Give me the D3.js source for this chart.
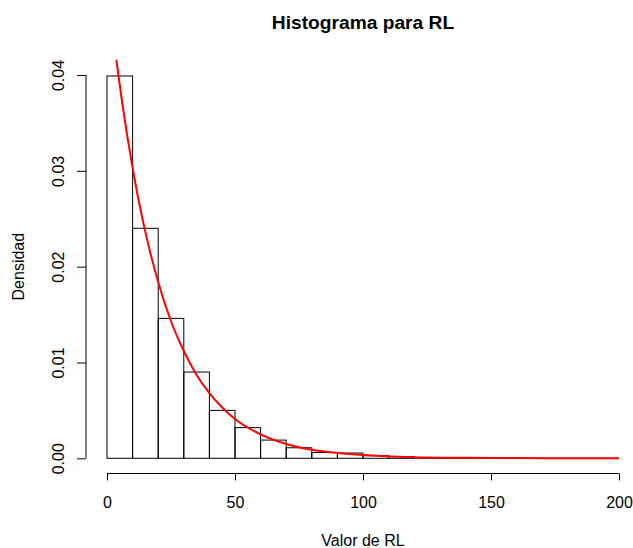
<!DOCTYPE html>
<html>
<head>
<meta charset="utf-8">
<script src="https://cdn.jsdelivr.net/npm/d3@7"></script>
<style>
  html, body { margin: 0; padding: 0; background: #fff; }
  svg { display: block; }
  text { font-family: "Liberation Sans", Arial, sans-serif; fill: #000; }
</style>
</head>
<body>
<script>
// Histogram bins (break edges) and densities
const binStarts = [0, 10, 20, 30, 40, 50, 60, 70, 80, 90, 100, 110, 120, 130, 140];
const binWidth = 10;
const densities = [0.0399, 0.0240, 0.0146, 0.0090, 0.0050, 0.0032, 0.0019, 0.0011,
                   0.0006, 0.00055, 0.00027, 0.00017, 0.00008, 0.00004, 0.00002];

// Fitted density curve
const curveX = [3, 4, 6, 8, 10, 12, 15, 20, 25, 30, 35, 40, 45, 50, 60, 70, 80, 90, 100, 120, 140, 160, 180, 200];
const curveY = [0.0430, 0.0409, 0.0370, 0.0335, 0.0303, 0.0274, 0.0236, 0.0184, 0.0143, 0.0112,
                0.0087, 0.0068, 0.0053, 0.0041, 0.0025, 0.0015, 0.0009, 0.00056, 0.00034,
                0.00012, 0.00005, 0.00002, 0.00001, 0.0];

const xTicks = [0, 50, 100, 150, 200];
const yTicks = [0.00, 0.01, 0.02, 0.03, 0.04];
const yTickLabels = ["0.00", "0.01", "0.02", "0.03", "0.04"];

const titleText = "Histograma para RL";
const xLabel = "Valor de RL";
const yLabel = "Densidad";

const W = 633, H = 548;
const svg = d3.select("body").append("svg").attr("width", W).attr("height", H);

const x = d3.scaleLinear().domain([0, 200]).range([107, 619]);
const y = d3.scaleLinear().domain([0, 0.04]).range([458.3, 75]);

// plot region (R usr extends 4%)
const px0 = x(-8), px1 = x(208), py0 = y(0.0416), py1 = y(-0.0016);

svg.append("defs").append("clipPath").attr("id", "plotclip")
  .append("rect").attr("x", px0).attr("y", py0).attr("width", px1 - px0).attr("height", py1 - py0);

// bars
svg.append("g").selectAll("rect").data(binStarts).join("rect")
  .attr("x", d => x(d))
  .attr("y", (d, i) => y(densities[i]))
  .attr("width", d => x(d + binWidth) - x(d))
  .attr("height", (d, i) => y(0) - y(densities[i]))
  .attr("fill", "none")
  .attr("stroke", "#000")
  .attr("stroke-width", 1);

// density curve
const pts = curveX.map((v, i) => [v, curveY[i]]);
svg.append("path").datum(pts)
  .attr("clip-path", "url(#plotclip)")
  .attr("d", d3.line().x(d => x(d[0])).y(d => y(d[1])).curve(d3.curveMonotoneX))
  .attr("fill", "none")
  .attr("stroke", "#ff0000")
  .attr("stroke-width", 2);

// x axis
const xAxisY = 473.5;
const gx = svg.append("g").attr("transform", `translate(0,${xAxisY})`)
  .call(d3.axisBottom(x).tickValues(xTicks).tickSize(7).tickPadding(16).tickFormat(d3.format("d")));
gx.select(".domain").attr("d", `M${x(0)},0H${x(200)}`).attr("stroke", "#000");
gx.selectAll(".tick line").attr("stroke", "#000");
gx.selectAll(".tick text").attr("font-size", 16).attr("font-family", "Liberation Sans, Arial, sans-serif").attr("fill", "#000").attr("dy", "0.71em").attr("y", 23);

// y axis
const yAxisX = 86;
const gy = svg.append("g").attr("transform", `translate(${yAxisX},0)`)
  .call(d3.axisLeft(y).tickValues(yTicks).tickSize(9).tickFormat((d, i) => yTickLabels[i]));
gy.select(".domain").attr("d", `M0,${y(0)}V${y(0.04)}`).attr("stroke", "#000");
gy.selectAll(".tick line").attr("stroke", "#000");
gy.selectAll(".tick text")
  .attr("font-size", 16).attr("font-family", "Liberation Sans, Arial, sans-serif").attr("fill", "#000")
  .attr("x", null).attr("dy", null)
  .attr("text-anchor", "middle")
  .attr("transform", "translate(-22,0) rotate(-90)");

// title
svg.append("text").attr("x", (px0 + px1) / 2).attr("y", 29)
  .attr("text-anchor", "middle").attr("font-size", 19.2).attr("font-weight", "bold")
  .text(titleText);

// x label
svg.append("text").attr("x", (px0 + px1) / 2).attr("y", 546)
  .attr("text-anchor", "middle").attr("font-size", 16).text(xLabel);

// y label
svg.append("text").attr("transform", `translate(24,${(py0 + py1) / 2}) rotate(-90)`)
  .attr("text-anchor", "middle").attr("font-size", 16).text(yLabel);
</script>
</body>
</html>
